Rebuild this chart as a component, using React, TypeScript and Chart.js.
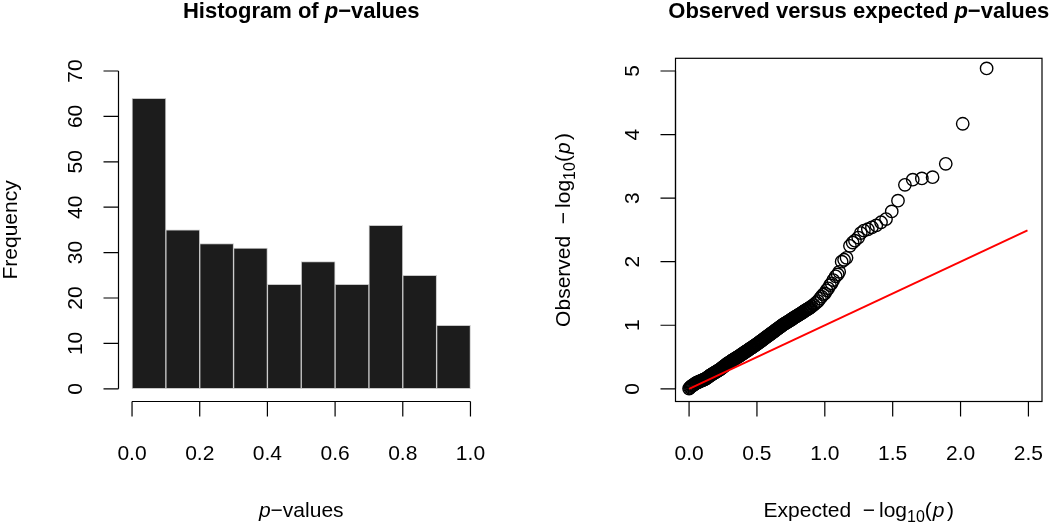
import React, { useEffect, useRef } from "react";
import { Chart, registerables } from "chart.js";

Chart.register(...registerables);

const FONT = '"Liberation Sans", Arial, Helvetica, sans-serif';

// ---------- Histogram data ----------
const histBinCenters = [0.05, 0.15, 0.25, 0.35, 0.45, 0.55, 0.65, 0.75, 0.85, 0.95];
const histCounts = [64, 35, 32, 31, 23, 28, 23, 36, 25, 14];
const histXTicks = [0, 0.2, 0.4, 0.6, 0.8, 1.0];
const histXTickLabels = ["0.0", "0.2", "0.4", "0.6", "0.8", "1.0"];
const histYTicks = [0, 10, 20, 30, 40, 50, 60, 70];
const histYTickLabels = ["0", "10", "20", "30", "40", "50", "60", "70"];

// ---------- QQ plot data (expected vs observed -log10 p) ----------
const qqExpected = [
  0, 0.006, 0.012, 0.018,
  0.024, 0.030, 0.036, 0.042, 0.048, 0.054,
  0.060, 0.066, 0.072, 0.078, 0.084, 0.090, 0.096, 0.102, 0.108, 0.114,
  0.120, 0.126, 0.132, 0.138, 0.144, 0.150, 0.156, 0.162,
  0.168, 0.174, 0.180, 0.186, 0.192, 0.198, 0.204, 0.210, 0.216, 0.222,
  0.228, 0.234, 0.240, 0.246, 0.252, 0.258, 0.264, 0.270, 0.276, 0.282,
  0.288, 0.294, 0.300, 0.306, 0.312, 0.318, 0.324, 0.330, 0.336, 0.342, 0.348, 0.354, 0.360, 0.366, 0.372,
  0.378, 0.384, 0.390, 0.396, 0.402, 0.408, 0.414, 0.420, 0.426, 0.432, 0.438, 0.444, 0.450, 0.456, 0.462, 0.468, 0.474, 0.480, 0.486, 0.492,
  0.498, 0.504, 0.510, 0.516, 0.522, 0.528, 0.534, 0.540, 0.546, 0.552, 0.558, 0.564, 0.570, 0.576, 0.582, 0.588,
  0.594, 0.600, 0.606, 0.612, 0.618, 0.624, 0.630, 0.636, 0.642, 0.648, 0.654, 0.660, 0.666, 0.672, 0.678, 0.684,
  0.690, 0.696, 0.702, 0.708, 0.714, 0.720, 0.726, 0.732, 0.738, 0.744, 0.750, 0.756, 0.762, 0.768, 0.774, 0.780, 0.786, 0.792,
  0.798, 0.804, 0.810, 0.816, 0.822, 0.828, 0.834, 0.840, 0.846, 0.852, 0.858, 0.864, 0.870, 0.876, 0.882, 0.888, 0.894,
  0.905, 0.918, 0.935, 0.950, 0.964, 0.976, 0.988, 1.000, 1.013, 1.025, 1.038, 1.050, 1.062, 1.080, 1.095, 1.106,
  1.124, 1.142, 1.160, 1.185, 1.205, 1.222, 1.246, 1.265, 1.288, 1.317, 1.347, 1.379, 1.414, 1.451, 1.493, 1.539,
  1.590, 1.648, 1.715, 1.794, 1.891, 2.016, 2.192,
];
const qqObserved = [
  0.004, 0.017, 0.029, 0.042,
  0.051, 0.059, 0.067, 0.076, 0.084, 0.092,
  0.099, 0.104, 0.110, 0.116, 0.121, 0.127, 0.133, 0.138, 0.144, 0.149,
  0.155, 0.164, 0.173, 0.182, 0.192, 0.201, 0.210, 0.219,
  0.227, 0.235, 0.242, 0.250, 0.258, 0.265, 0.273, 0.281, 0.289, 0.296,
  0.304, 0.315, 0.325, 0.335, 0.345, 0.355, 0.366, 0.376, 0.386, 0.396,
  0.405, 0.413, 0.421, 0.429, 0.437, 0.446, 0.454, 0.462, 0.470, 0.478, 0.486, 0.494, 0.503, 0.511, 0.519,
  0.527, 0.536, 0.545, 0.553, 0.562, 0.571, 0.579, 0.588, 0.597, 0.605, 0.614, 0.623, 0.631, 0.640, 0.649, 0.657, 0.666, 0.674, 0.683, 0.692,
  0.701, 0.710, 0.720, 0.729, 0.739, 0.748, 0.758, 0.767, 0.777, 0.786, 0.796, 0.805, 0.815, 0.824, 0.834, 0.843,
  0.853, 0.862, 0.871, 0.881, 0.890, 0.900, 0.909, 0.919, 0.929, 0.938, 0.948, 0.957, 0.967, 0.976, 0.986, 0.995,
  1.004, 1.012, 1.020, 1.029, 1.037, 1.045, 1.053, 1.061, 1.069, 1.078, 1.086, 1.094, 1.102, 1.110, 1.118, 1.127, 1.135, 1.143,
  1.151, 1.159, 1.168, 1.176, 1.184, 1.192, 1.200, 1.208, 1.217, 1.225, 1.233, 1.241, 1.249, 1.257, 1.266, 1.274, 1.282,
  1.30, 1.32, 1.35, 1.38, 1.42, 1.45, 1.48, 1.50, 1.55, 1.58, 1.63, 1.66, 1.71, 1.77, 1.80, 1.84,
  2.00, 2.03, 2.06, 2.25, 2.30, 2.33, 2.38, 2.45, 2.49, 2.51, 2.54, 2.57, 2.62, 2.67, 2.79, 2.96,
  3.21, 3.29, 3.31, 3.33, 3.54, 4.17, 5.04,
];
const refLineX = [0, 2.493];
const refLineY = [0, 2.493];
const qqXTicks = [0, 0.5, 1, 1.5, 2, 2.5];
const qqXTickLabels = ["0.0", "0.5", "1.0", "1.5", "2.0", "2.5"];
const qqYTicks = [0, 1, 2, 3, 4, 5];
const qqYTickLabels = ["0", "1", "2", "3", "4", "5"];

// ---------- text helpers ----------
type Seg = { t: string; size?: number; bold?: boolean; italic?: boolean; dy?: number; gap?: number };

function segFont(s: Seg, base: number, bold: boolean) {
  const b = s.bold ?? bold;
  return `${s.italic ? "italic " : ""}${b ? "bold " : ""}${s.size ?? base}px ${FONT}`;
}

function drawRich(ctx: CanvasRenderingContext2D, segs: Seg[], base: number, bold: boolean, x: number, y: number, rotate: boolean) {
  ctx.save();
  ctx.translate(x, y);
  if (rotate) ctx.rotate(-Math.PI / 2);
  ctx.textAlign = "left";
  ctx.textBaseline = "alphabetic";
  ctx.fillStyle = "#000";
  let total = 0;
  const widths: number[] = [];
  for (const s of segs) {
    ctx.font = segFont(s, base, bold);
    const w = ctx.measureText(s.t).width + (s.gap ?? 0);
    widths.push(w);
    total += w;
  }
  let cx = -total / 2;
  segs.forEach((s, i) => {
    ctx.font = segFont(s, base, bold);
    ctx.fillText(s.t, cx, s.dy ?? 0);
    cx += widths[i];
  });
  ctx.restore();
}

type AxisCfg = {
  box: boolean;
  xTicks: number[];
  xLabels: string[];
  yTicks: number[];
  yLabels: string[];
  title: Seg[];
  xlab: Seg[];
  ylab: Seg[];
  ylabX: number;
};

const TICK = 15;
const TICK_FONT = 21;

function makeAxesPlugin(cfg: AxisCfg) {
  return {
    id: "rAxes",
    afterDraw(chart: any) {
      const ctx: CanvasRenderingContext2D = chart.ctx;
      const ca = chart.chartArea;
      const xs = chart.scales.x;
      const ys = chart.scales.y;
      ctx.save();
      ctx.strokeStyle = "#000";
      ctx.lineWidth = 1.2;
      ctx.lineCap = "butt";
      if (cfg.box) {
        ctx.strokeRect(ca.left, ca.top, ca.right - ca.left, ca.bottom - ca.top);
      }
      // x axis
      const xb = ca.bottom;
      const x0 = xs.getPixelForValue(cfg.xTicks[0]);
      const x1 = xs.getPixelForValue(cfg.xTicks[cfg.xTicks.length - 1]);
      ctx.beginPath();
      ctx.moveTo(x0, xb);
      ctx.lineTo(x1, xb);
      cfg.xTicks.forEach((v) => {
        const px = xs.getPixelForValue(v);
        ctx.moveTo(px, xb);
        ctx.lineTo(px, xb + TICK);
      });
      // y axis
      const yl = ca.left;
      const y0 = ys.getPixelForValue(cfg.yTicks[0]);
      const y1 = ys.getPixelForValue(cfg.yTicks[cfg.yTicks.length - 1]);
      ctx.moveTo(yl, y0);
      ctx.lineTo(yl, y1);
      cfg.yTicks.forEach((v) => {
        const py = ys.getPixelForValue(v);
        ctx.moveTo(yl, py);
        ctx.lineTo(yl - TICK, py);
      });
      ctx.stroke();
      ctx.restore();

      cfg.xTicks.forEach((v, i) => {
        drawRich(ctx, [{ t: cfg.xLabels[i] }], TICK_FONT, false, xs.getPixelForValue(v), 460, false);
      });
      cfg.yTicks.forEach((v, i) => {
        drawRich(ctx, [{ t: cfg.yLabels[i] }], TICK_FONT, false, yl - 37, ys.getPixelForValue(v), true);
      });
      const cx = (ca.left + ca.right) / 2;
      const cy = (ca.top + ca.bottom) / 2;
      drawRich(ctx, cfg.title, 22, true, cx, 18, false);
      drawRich(ctx, cfg.xlab, TICK_FONT, false, cx, 517, false);
      drawRich(ctx, cfg.ylab, TICK_FONT, false, cfg.ylabX, cy, true);
    },
  };
}

const TOP = 58.3;
const BOTTOM_PAD = 523 - 401.5;

const logLabel = (word: string): Seg[] => [
  { t: word + "  \u2212", gap: 4 },
  { t: "log" },
  { t: "10", size: 16, dy: 5 },
  { t: "(", gap: 1 },
  { t: "p", italic: true, gap: 2.5 },
  { t: ")" },
];

export default function App() {
  const leftRef = useRef<HTMLCanvasElement>(null);
  const rightRef = useRef<HTMLCanvasElement>(null);

  useEffect(() => {
    const prevMargin = document.body.style.margin;
    document.body.style.margin = "0";

    const histChart = new Chart(leftRef.current!, {
      type: "bar",
      data: {
        datasets: [
          {
            data: histBinCenters.map((x, i) => ({ x, y: histCounts[i] })),
            backgroundColor: "#1c1c1c",
            borderColor: "#c8c8c8",
            borderWidth: 1,
            borderSkipped: false,
            barPercentage: 1,
            categoryPercentage: 1,
          } as any,
        ],
      },
      options: {
        responsive: false,
        animation: false,
        events: [],
        layout: { padding: { left: 118.5, right: 525 - 484, top: TOP, bottom: BOTTOM_PAD } },
        plugins: { legend: { display: false }, tooltip: { enabled: false }, title: { display: false } },
        scales: {
          x: { type: "linear", min: -0.04, max: 1.04, display: false, offset: false },
          y: { type: "linear", min: -2.8, max: 72.8, display: false },
        },
      },
      plugins: [
        makeAxesPlugin({
          box: false,
          xTicks: histXTicks,
          xLabels: histXTickLabels,
          yTicks: histYTicks,
          yLabels: histYTickLabels,
          title: [{ t: "Histogram of " }, { t: "p", italic: true }, { t: "\u2212values" }],
          xlab: [{ t: "p", italic: true }, { t: "\u2212values" }],
          ylab: [{ t: "Frequency" }],
          ylabX: 17,
        }),
      ],
    });

    const qqChart = new Chart(rightRef.current!, {
      type: "scatter",
      data: {
        datasets: [
          {
            type: "line",
            data: refLineX.map((x, i) => ({ x, y: refLineY[i] })),
            borderColor: "#ff0000",
            borderWidth: 2,
            pointRadius: 0,
            fill: false,
            order: 0,
          } as any,
          {
            type: "scatter",
            data: qqExpected.map((x, i) => ({ x, y: qqObserved[i] })),
            pointStyle: "circle",
            pointRadius: 6.2,
            pointBorderWidth: 1.4,
            borderColor: "#000",
            backgroundColor: "rgba(0,0,0,0)",
            pointBackgroundColor: "rgba(0,0,0,0)",
            pointBorderColor: "#000",
            order: 1,
          } as any,
        ],
      },
      options: {
        responsive: false,
        animation: false,
        events: [],
        layout: { padding: { left: 675.5 - 525, right: 1050 - 1042, top: TOP, bottom: BOTTOM_PAD } },
        plugins: { legend: { display: false }, tooltip: { enabled: false }, title: { display: false } },
        scales: {
          x: { type: "linear", min: -0.1, max: 2.6, display: false },
          y: { type: "linear", min: -0.2, max: 5.2, display: false },
        },
      },
      plugins: [
        makeAxesPlugin({
          box: true,
          xTicks: qqXTicks,
          xLabels: qqXTickLabels,
          yTicks: qqYTicks,
          yLabels: qqYTickLabels,
          title: [{ t: "Observed versus expected " }, { t: "p", italic: true }, { t: "\u2212values" }],
          xlab: logLabel("Expected"),
          ylab: logLabel("Observed"),
          ylabX: 570 - 525,
        }),
      ],
    });

    return () => {
      histChart.destroy();
      qqChart.destroy();
      document.body.style.margin = prevMargin;
    };
  }, []);

  return (
    <div style={{ position: "fixed", left: 0, top: 0, width: 1050, height: 523, background: "#fff" }}>
      <canvas ref={leftRef} width={525} height={523} style={{ position: "absolute", left: 0, top: 0 }} />
      <canvas ref={rightRef} width={525} height={523} style={{ position: "absolute", left: 525, top: 0 }} />
    </div>
  );
}
